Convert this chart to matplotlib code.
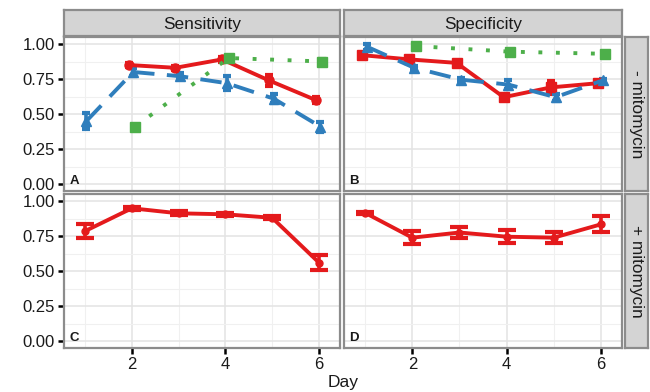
import matplotlib
matplotlib.use("Agg")
import matplotlib.pyplot as plt
import numpy as np

plt.rcParams['font.family'] = ['Liberation Sans', 'DejaVu Sans']

W, H = 650, 392

# values
days = [1, 2, 3, 4, 5, 6]
green_days = [2, 4, 6]

# - mitomycin, sensitivity
a_red = [None, 0.85, 0.83, 0.89, 0.74, 0.60]
a_red_err = [0, 0.015, 0.015, 0.015, 0.04, 0.02]
a_blue = [0.45, 0.80, 0.77, 0.72, 0.61, 0.41]
a_blue_err = [0.06, 0.03, 0.02, 0.05, 0.03, 0.035]
a_green = [0.41, 0.90, 0.875]
a_green_err = [0.015, 0.01, 0.02]

# - mitomycin, specificity
b_red = [0.92, 0.89, 0.865, 0.62, 0.69, 0.72]
b_red_err = [0.015, 0.01, 0.01, 0.01, 0.045, 0.01]
b_blue = [0.98, 0.83, 0.745, 0.71, 0.62, 0.74]
b_blue_err = [0.02, 0.01, 0.01, 0.03, 0.025, 0.01]
b_green = [0.985, 0.945, 0.93]
b_green_err = [0.01, 0.005, 0.005]

# + mitomycin
c_red = [0.785, 0.948, 0.912, 0.905, 0.88, 0.56]
c_red_err = [0.05, 0.01, 0.015, 0.01, 0.01, 0.055]
d_red = [0.915, 0.738, 0.775, 0.745, 0.738, 0.833]
d_red_err = [0.01, 0.045, 0.04, 0.045, 0.04, 0.057]

col_titles = ['Sensitivity', 'Specificity']
row_titles = ['- mitomycin', '+ mitomycin']
panel_tags = ['A', 'B', 'C', 'D']

RED, BLUE, GREEN = '#E41A1C', '#2F7EBC', '#4DAF4A'
BORDER = '#8C8C8C'
STRIP = '#D4D4D4'
TXT = '#1A1A1A'

fig = plt.figure(figsize=(W / 100, H / 100), dpi=100)


def box(x0, y0, x1, y1):
    return [x0 / W, 1 - y1 / H, (x1 - x0) / W, (y1 - y0) / H]


cols = [(64, 340), (344, 622)]
rows = [(37, 191), (194, 348)]


def series(ax, xs, ys, errs, color, marker, ls, offset, cap, ms=6.5):
    xs = np.array([x for x, y in zip(xs, ys) if y is not None], float) + offset
    e = [er for er, y in zip(errs, ys) if y is not None]
    ys = [y for y in ys if y is not None]
    ax.errorbar(xs, ys, yerr=e, color=color, lw=2.8, ls='none',
                capsize=cap, capthick=3.0, elinewidth=2.6, zorder=3)
    ax.plot(xs, ys, color=color, lw=2.8, ls=ls, marker=marker, ms=ms,
            dash_capstyle='butt', zorder=4)


axes = []
for r in range(2):
    for c in range(2):
        ax = fig.add_axes(box(cols[c][0], rows[r][0], cols[c][1], rows[r][1]))
        axes.append(ax)
        ax.set_xlim(0.55, 6.45)
        ax.set_ylim(-0.05, 1.05)
        ax.set_xticks([2, 4, 6])
        ax.set_xticks([1, 3, 5], minor=True)
        ax.set_yticks([0, 0.25, 0.5, 0.75, 1.0])
        ax.set_yticks([0.125, 0.375, 0.625, 0.875], minor=True)
        ax.grid(which='major', color='#E3E3E3', lw=1.1)
        ax.grid(which='minor', color='#F0F0F0', lw=0.8)
        ax.set_axisbelow(True)
        for s in ax.spines.values():
            s.set_color(BORDER)
            s.set_linewidth(1.6)
        ax.tick_params(which='minor', length=0)
        ax.tick_params(which='major', length=4.5, width=1.8, color='black',
                       labelsize=12, labelcolor=TXT, pad=2)
        if c == 1:
            ax.tick_params(axis='y', labelleft=False, length=0)
        else:
            ax.set_yticklabels(['0.00', '0.25', '0.50', '0.75', '1.00'])
        if r == 0:
            ax.tick_params(axis='x', labelbottom=False, length=0)
        ax.text(0.02, 0.025, panel_tags[r * 2 + c], transform=ax.transAxes,
                fontsize=9.5, fontweight='bold', va='bottom', ha='left',
                color=TXT)

axA, axB, axC, axD = axes

series(axA, days, a_red, a_red_err, RED, 'o', '-', -0.07, 3.2)
series(axA, days, a_blue, a_blue_err, BLUE, '^', (0, (5.5, 3.2)), 0.03, 3.2)
series(axA, green_days, a_green, a_green_err, GREEN, 's', (0, (1, 3.5)), 0.07, 3.2)

series(axB, days, b_red, b_red_err, RED, 's', '-', -0.06, 3.2)
series(axB, days, b_blue, b_blue_err, BLUE, '^', (0, (5.5, 3.2)), 0.04, 3.2)
series(axB, green_days, b_green, b_green_err, GREEN, 's', (0, (1, 3.5)), 0.08, 3.2)

series(axC, days, c_red, c_red_err, RED, 'o', '-', 0.0, 6.5, ms=5)
series(axD, days, d_red, d_red_err, RED, 'o', '-', 0.0, 6.5, ms=5)

# column strips
for c in range(2):
    sax = fig.add_axes(box(cols[c][0], 10, cols[c][1], 36))
    sax.set_facecolor(STRIP)
    sax.set_xticks([])
    sax.set_yticks([])
    for s in sax.spines.values():
        s.set_color(BORDER)
        s.set_linewidth(1.6)
    sax.text(0.5, 0.45, col_titles[c], ha='center', va='center', fontsize=12.4,
             color=TXT, transform=sax.transAxes)

# row strips
for r in range(2):
    sax = fig.add_axes(box(625, rows[r][0], 648, rows[r][1]))
    sax.set_facecolor(STRIP)
    sax.set_xticks([])
    sax.set_yticks([])
    for s in sax.spines.values():
        s.set_color(BORDER)
        s.set_linewidth(1.6)
    sax.text(0.5, 0.5, row_titles[r], ha='center', va='center', fontsize=12.4,
             rotation=270, color=TXT, transform=sax.transAxes)

fig.text(343 / W, 1 - 383 / H, 'Day', ha='center', va='center', fontsize=12.5,
         color=TXT)

fig.savefig('out.png', dpi=100)
